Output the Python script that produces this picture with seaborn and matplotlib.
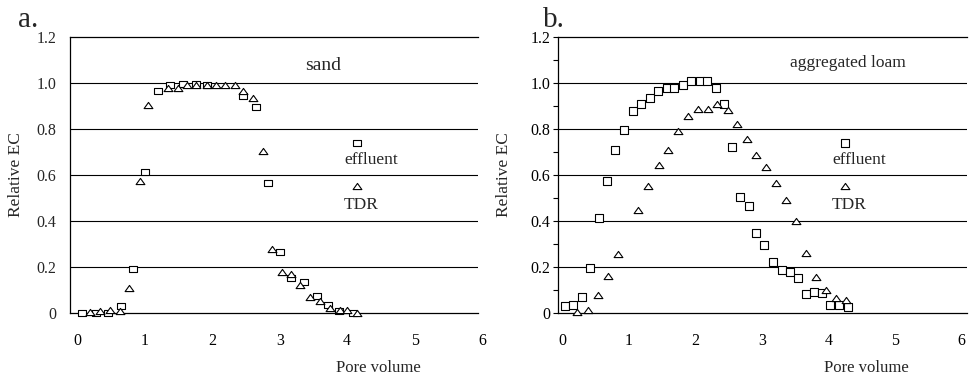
import pandas as pd
import matplotlib
matplotlib.use('Agg')
import matplotlib.pyplot as plt
import matplotlib.transforms as mtransforms
from matplotlib.path import Path
from matplotlib.ticker import MultipleLocator
import seaborn as sns

# panel a: sand
sand_eff_pv = [0.12, 0.34, 0.52, 0.70, 0.88, 1.06, 1.25, 1.43, 1.62, 1.82, 1.98, 2.51, 2.71,
               2.88, 3.06, 3.23, 3.42, 3.61, 3.78, 3.94, 4.15]
sand_eff_ec = [0.0, 0.0, 0.0, 0.03, 0.19, 0.615, 0.965, 0.99, 0.995, 0.995, 0.99, 0.945, 0.895,
               0.565, 0.265, 0.15, 0.135, 0.075, 0.035, 0.008, 0.0]
sand_tdr_pv = [0.24, 0.39, 0.54, 0.69, 0.83, 0.98, 1.11, 1.40, 1.55, 1.68, 1.82, 1.98, 2.12, 2.25,
               2.40, 2.52, 2.67, 2.81, 2.94, 3.09, 3.23, 3.36, 3.51, 3.65, 3.80, 3.95, 4.05, 4.21]
sand_tdr_ec = [0.005, 0.01, 0.015, 0.01, 0.11, 0.575, 0.905, 0.98, 0.98, 0.99, 0.99, 0.99, 0.99, 0.99,
               0.99, 0.965, 0.935, 0.705, 0.28, 0.18, 0.168, 0.12, 0.068, 0.05, 0.022, 0.012, 0.012, 0.0]

# panel b: aggregated loam
loam_eff_pv = [0.11, 0.23, 0.36, 0.48, 0.61, 0.74, 0.86, 0.99, 1.12, 1.24, 1.38, 1.50, 1.63, 1.74,
               1.87, 1.99, 2.13, 2.24, 2.37, 2.49, 2.62, 2.74, 2.87, 2.98, 3.10, 3.23, 3.36, 3.48,
               3.61, 3.72, 3.85, 3.97, 4.09, 4.22, 4.35]
loam_eff_ec = [0.029, 0.036, 0.069, 0.194, 0.413, 0.574, 0.707, 0.796, 0.878, 0.907, 0.935, 0.964,
               0.978, 0.978, 0.99, 1.01, 1.01, 1.01, 0.978, 0.907, 0.722, 0.506, 0.466, 0.349,
               0.294, 0.222, 0.189, 0.179, 0.151, 0.082, 0.093, 0.086, 0.033, 0.033, 0.026]
loam_tdr_pv = [0.29, 0.45, 0.60, 0.75, 0.90, 1.20, 1.35, 1.52, 1.65, 1.80, 1.95, 2.10, 2.25, 2.39,
               2.55, 2.69, 2.84, 2.98, 3.13, 3.28, 3.42, 3.57, 3.72, 3.87, 4.02, 4.17, 4.32]
loam_tdr_ec = [0.004, 0.014, 0.079, 0.161, 0.255, 0.449, 0.552, 0.643, 0.71, 0.793, 0.857, 0.885,
               0.885, 0.907, 0.882, 0.822, 0.758, 0.689, 0.636, 0.567, 0.492, 0.399, 0.263, 0.158,
               0.098, 0.065, 0.055]

y_ticks = [0, 0.2, 0.4, 0.6, 0.8, 1.0, 1.2]
y_labels = ['0', '0.2', '0.4', '0.6', '0.8', '1.0', '1.2']
x_ticks = [0, 1, 2, 3, 4, 5, 6]

# in-plot key markers (pore volume, relative EC)
sand_key_pv = [4.20, 4.20]
loam_key_pv = [4.31, 4.31]
key_ec = [0.74, 0.55]

sns.set_style('white')
plt.rcParams['font.family'] = ['Liberation Serif', 'DejaVu Serif']

fig = plt.figure(figsize=(9.77, 3.81), dpi=100)
ax_a = fig.add_axes([0.0717, 0.1785, 0.4176, 0.7244])
ax_b = fig.add_axes([0.5711, 0.1785, 0.4186, 0.7244])


def closed(verts):
    codes = [Path.MOVETO] + [Path.LINETO] * (len(verts) - 1) + [Path.CLOSEPOLY]
    return Path(verts + [verts[0]], codes)


tri = closed([(-1, -0.7), (1, -0.7), (0, 0.7)])
rect_a = closed([(-1, -0.65), (1, -0.65), (1, 0.65), (-1, 0.65)])
rect_b = closed([(-1, -0.9), (1, -0.9), (1, 0.9), (-1, 0.9)])


def draw_panel(ax, eff_pv, eff_ec, tdr_pv, tdr_ec, key_pv, rect, xmin, xmax):
    common = dict(color='white', edgecolor='black', linewidth=0.8, legend=False,
                  clip_on=False, zorder=3, ax=ax)
    sns.scatterplot(x=eff_pv, y=eff_ec, marker=rect, s=34, **common)
    sns.scatterplot(x=tdr_pv, y=tdr_ec, marker=tri, s=40, **common)
    sns.scatterplot(x=key_pv[:1], y=key_ec[:1], marker=rect, s=34, **common)
    sns.scatterplot(x=key_pv[1:], y=key_ec[1:], marker=tri, s=40, **common)

    ax.set_xlim(xmin, xmax)
    ax.set_ylim(0, 1.2)
    ax.set_xticks(x_ticks)
    ax.set_xticklabels([str(t) for t in x_ticks], fontsize=11.5)
    ax.set_yticks(y_ticks)
    ax.set_yticklabels(y_labels, fontsize=11.5)
    for yv in y_ticks[1:-1]:
        ax.axhline(yv, color='black', lw=0.8, zorder=1)
    for side in ['left', 'bottom', 'top']:
        ax.spines[side].set_color('black')
        ax.spines[side].set_linewidth(0.9)
    ax.spines['right'].set_visible(False)
    ax.tick_params(axis='x', direction='inout', length=7, width=0.8, pad=11, colors='black')
    shift = mtransforms.ScaledTranslation(4 / 100, 0, fig.dpi_scale_trans)
    for lab in ax.get_xticklabels():
        lab.set_transform(lab.get_transform() + shift)
    ax.set_xlabel('Pore volume', fontsize=12)
    ax.xaxis.set_label_coords(0.755, -0.172)
    ax.set_ylabel('Relative EC', fontsize=12.5)
    ax.yaxis.set_label_coords(-0.112, 0.5)
    ax.grid(False)


draw_panel(ax_a, sand_eff_pv, sand_eff_ec, sand_tdr_pv, sand_tdr_ec, sand_key_pv, rect_a, -0.05, 6.0)
ax_a.tick_params(axis='y', length=0, pad=10)
ax_a.text(3.71, 1.078, 'sand', fontsize=14, ha='center', va='center')
ax_a.text(4.41, 0.665, 'effluent', fontsize=12.5, ha='center', va='center')
ax_a.text(4.26, 0.47, 'TDR', fontsize=12.5, ha='center', va='center')

draw_panel(ax_b, loam_eff_pv, loam_eff_ec, loam_tdr_pv, loam_tdr_ec, loam_key_pv, rect_b, 0, 6.14)
ax_b.yaxis.set_minor_locator(MultipleLocator(0.1))
ax_b.tick_params(axis='y', which='both', direction='out', length=3.5, width=0.8, pad=2,
                 left=True, colors='black')
ax_b.text(4.35, 1.087, 'aggregated loam', fontsize=12.5, ha='center', va='center')
ax_b.text(4.52, 0.665, 'effluent', fontsize=12.5, ha='center', va='center')
ax_b.text(4.37, 0.47, 'TDR', fontsize=12.5, ha='center', va='center')

fig.text(18 / 977, 1 - 27 / 381, 'a.', fontsize=21, va='baseline', ha='left')
fig.text(543 / 977, 1 - 27 / 381, 'b.', fontsize=21, va='baseline', ha='left')

fig.savefig('out.png', dpi=100)
plt.close(fig)
